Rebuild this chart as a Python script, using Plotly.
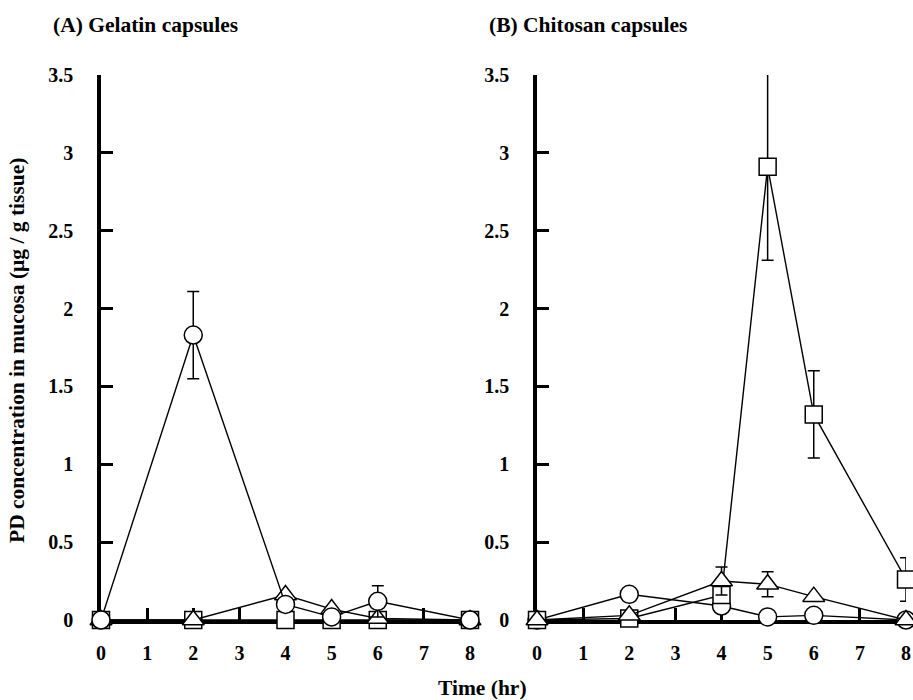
import plotly.graph_objects as go

times = [0, 2, 4, 5, 6, 8]
x_ticks = [0, 1, 2, 3, 4, 5, 6, 7, 8]
y_ticks = [0, 0.5, 1, 1.5, 2, 2.5, 3, 3.5]
y_tick_labels = ["0", "0.5", "1", "1.5", "2", "2.5", "3", "3.5"]

# Panel A: Gelatin capsules
a_circle = [0, 1.83, 0.10, 0.02, 0.12, 0]
a_circle_err = [0, 0.28, 0.02, 0, 0.10, 0]
a_triangle = [0, 0, 0.16, 0.07, 0.01, 0]
a_triangle_err = [0, 0, 0, 0, 0, 0]
a_square = [0, 0, 0, 0, 0, 0]
a_square_err = [0, 0, 0, 0, 0, 0]

# Panel B: Chitosan capsules
b_square = [0, 0.01, 0.16, 2.91, 1.32, 0.26]
b_square_err = [0, 0, 0.03, 0.60, 0.28, 0.14]
b_triangle = [0, 0.03, 0.25, 0.23, 0.15, 0]
b_triangle_err = [0, 0, 0.09, 0.08, 0, 0]
b_circle = [0, 0.165, 0.09, 0.02, 0.03, 0]
b_circle_err = [0, 0, 0.03, 0, 0, 0]

W, H = 913, 700
FONT = "Liberation Serif"


def fx(X):
    return X / W


def fy(Y):
    return 1 - Y / H


fig = go.Figure()

sizes = {"circle": 18, "square": 17, "triangle-up": 19}


def add(x, y, err, sym, xa, ya):
    fig.add_trace(go.Scatter(
        x=x, y=y, xaxis=xa, yaxis=ya, mode="lines+markers",
        line=dict(color="black", width=1.4),
        marker=dict(symbol=sym, size=sizes[sym], color="white",
                    line=dict(color="black", width=1.5)),
        error_y=dict(type="data", array=err, visible=True, color="black", thickness=1.5, width=6),
        cliponaxis=False, showlegend=False, hoverinfo="x+y"))


add(times, a_square, a_square_err, "square", "x", "y")
add(times, a_triangle, a_triangle_err, "triangle-up", "x", "y")
add(times, a_circle, a_circle_err, "circle", "x", "y")

add(times, b_circle, b_circle_err, "circle", "x2", "y2")
add(times, b_square, b_square_err, "square", "x2", "y2")
add(times, b_triangle, b_triangle_err, "triangle-up", "x2", "y2")

ydom = [fy(620), fy(75)]
axis_common = dict(showline=True, linecolor="black", linewidth=3.5, ticks="inside", ticklen=12,
                   tickwidth=3, tickcolor="black", showgrid=False, zeroline=False,
                   layer="below traces", automargin=False,
                   tickfont=dict(family=FONT, size=20, color="black", weight="bold"))

xa = dict(axis_common, range=[0, 8], tickvals=x_ticks, ticktext=[str(v) for v in x_ticks],
          ticklabelstandoff=12)
ya = dict(axis_common, range=[0, 3.5], tickvals=y_ticks, ticktext=y_tick_labels,
          ticklabelstandoff=20, domain=ydom)

fig.update_layout(
    width=W, height=H, autosize=False,
    margin=dict(l=0, r=0, t=0, b=0, pad=0, autoexpand=False),
    plot_bgcolor="white", paper_bgcolor="white",
    xaxis=dict(xa, domain=[fx(101), fx(470)], anchor="y"),
    yaxis=dict(ya, anchor="x"),
    xaxis2=dict(xa, domain=[fx(537), fx(906)], anchor="y2"),
    yaxis2=dict(ya, anchor="x2"),
)

tf = dict(family=FONT, size=21.5, color="black", weight="bold")
fig.add_annotation(text="(A) Gelatin capsules", xref="paper", yref="paper",
                   x=fx(51), y=fy(25), xanchor="left", yanchor="middle", showarrow=False, font=tf)
fig.add_annotation(text="(B) Chitosan capsules", xref="paper", yref="paper",
                   x=fx(487), y=fy(25), xanchor="left", yanchor="middle", showarrow=False, font=tf)
fig.add_annotation(text="Time (hr)", xref="paper", yref="paper",
                   x=fx(482), y=fy(688), xanchor="center", yanchor="middle", showarrow=False, font=tf)
fig.add_annotation(text="PD concentration in mucosa (μg / g tissue)", xref="paper", yref="paper",
                   x=fx(17), y=fy(351), xanchor="center", yanchor="middle", textangle=-90,
                   showarrow=False, font=tf)

fig.write_html("out.html", config={"displayModeBar": False},
               post_script="document.body.style.margin='0';document.body.style.overflow='hidden';")
